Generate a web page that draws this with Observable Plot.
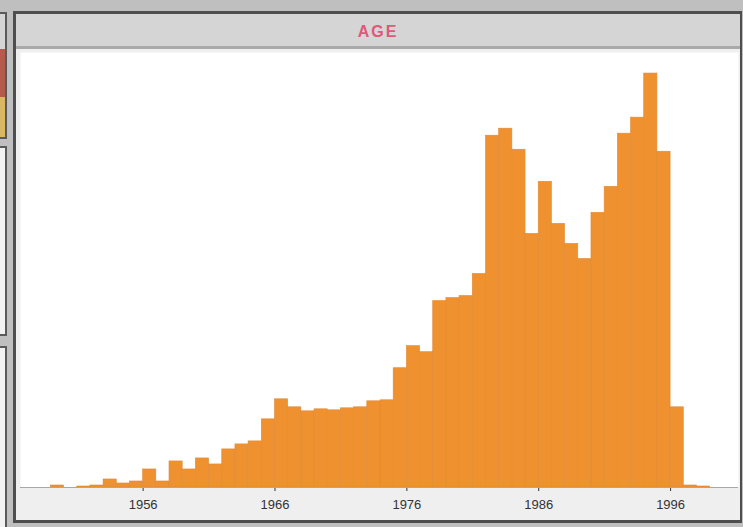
<!DOCTYPE html>
<html>
<head>
<meta charset="utf-8">
<script src="https://cdn.jsdelivr.net/npm/d3@7"></script>
<script src="https://cdn.jsdelivr.net/npm/@observablehq/plot@0.6"></script>
<style>
  html, body { margin: 0; padding: 0; }
  body { width: 743px; height: 527px; background: #bfbfbf; position: relative; overflow: hidden; font-family: "Liberation Sans", Arial, sans-serif; }
  .stub { position: absolute; left: -4px; width: 11px; border: 2px solid #5a5a5a; box-sizing: border-box; }
  #panel { position: absolute; left: 13px; top: 11px; width: 729px; height: 512px; border: 3px solid #4e4e4e; border-right-width: 2px; box-sizing: border-box; background: #efefef; }
  #header { position: absolute; left: 0; top: 0; right: 0; height: 35px; background: #d5d5d5; border-bottom: 3px solid #a9a9a9; box-sizing: border-box; text-align: center; line-height: 36px; color: #e0587a; font-size: 16px; font-weight: 600; letter-spacing: 2px; }
  #chart { position: absolute; left: 0; top: 38px; }
</style>
</head>
<body>
<div class="stub" style="top:12px;height:127px;background:linear-gradient(#d5d5d5 0 35px,#b65a4c 35px 83px,#d9b862 83px 100%);"></div>
<div class="stub" style="top:146px;height:190px;background:#f2f2f2;"></div>
<div class="stub" style="top:346px;height:200px;background:#f2f2f2;"></div>
<div id="panel">
  <div id="header">AGE</div>
  <div id="chart"></div>
</div>
<script>
const years = [1949,1950,1951,1952,1953,1954,1955,1956,1957,1958,1959,1960,1961,1962,1963,1964,1965,1966,1967,1968,1969,1970,1971,1972,1973,1974,1975,1976,1977,1978,1979,1980,1981,1982,1983,1984,1985,1986,1987,1988,1989,1990,1991,1992,1993,1994,1995,1996,1997,1998];
const counts = [2,0,1,2,8,4,6,18,6,26,18,29,23,38,43,46,68,88,80,76,78,77,79,80,86,87,119,141,135,186,189,191,213,351,358,337,253,305,263,243,228,274,300,353,369,413,335,80,2,1];
const tickYears = [1956,1966,1976,1986,1996];

const data = years.map((y, i) => ({year: y, count: counts[i]}));

const chart = Plot.plot({
  width: 722,
  height: 469,
  marginLeft: 4,
  marginRight: 0,
  marginTop: 0,
  marginBottom: 34,
  style: {background: "transparent", fontFamily: "Liberation Sans, Arial, sans-serif", fontSize: "13px", color: "#333", overflow: "visible"},
  x: {domain: [1946.7, 2001.15], ticks: tickYears, tickFormat: d => String(d), tickSize: 4, tickPadding: 8, label: null},
  y: {domain: [0, 434], axis: null},
  marks: [
    Plot.frame({fill: "white", stroke: null}),
    Plot.rectY(data, {x1: "year", x2: d => d.year + 1, y: "count", fill: "#f0912f", stroke: "#e08a35", strokeWidth: 0.6, inset: 0}),
    Plot.ruleY([0], {stroke: "#a8a8a8", strokeWidth: 1})
  ]
});
document.getElementById("chart").appendChild(chart);
</script>
</body>
</html>
